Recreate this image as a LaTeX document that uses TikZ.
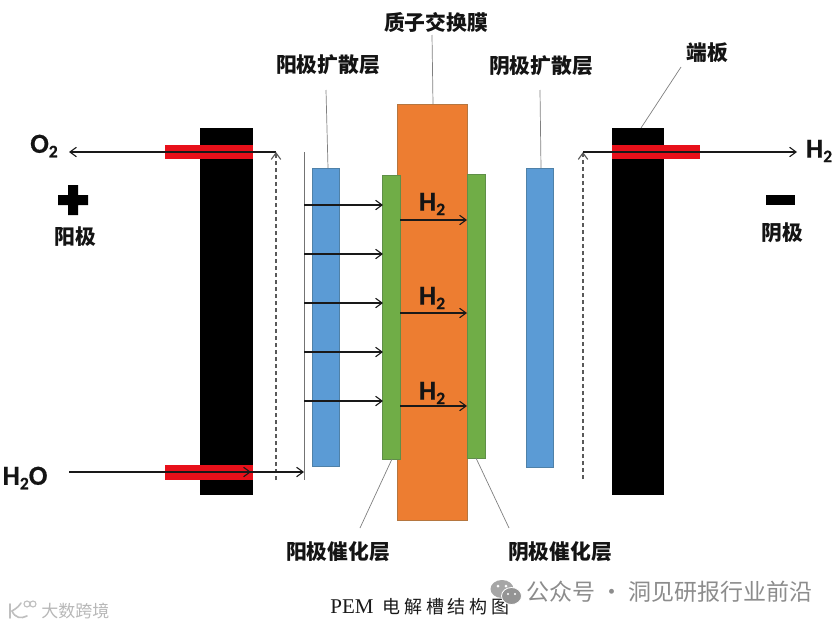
\documentclass[tikz,border=0pt]{standalone}
\usepackage{fontspec}
\setmainfont{Noto Sans CJK SC}
\newfontfamily\latinb[FakeBold=0.5]{Carlito Bold}
\newfontfamily\capserif{Liberation Serif}
\usetikzlibrary{arrows.meta}
\definecolor{blue1}{HTML}{5B9BD5}
\definecolor{blue2}{HTML}{4F81A8}
\definecolor{green1}{HTML}{70AD47}
\definecolor{green2}{HTML}{5F8F48}
\definecolor{orange1}{HTML}{ED7D31}
\definecolor{orange2}{HTML}{B5763F}
\definecolor{barred}{HTML}{E8101A}
\newcommand\lowsub[1]{\raisebox{-4.5pt}{\fontsize{17.5}{18}\selectfont #1}}
\tikzset{
  >={Straight Barb[length=6.5pt,width=9.5pt,line width=1.1pt]},
  box/.style={inner sep=0pt,outer sep=0pt,anchor=north west,line width=0.8pt},
  endplate/.style={box,fill=black,minimum width=53pt,minimum height=367pt},
  redbar/.style={box,fill=barred,minimum width=88pt,minimum height=14pt},
  bluelayer/.style={box,fill=blue1,draw=blue2,minimum width=27pt,minimum height=298pt},
  greenlayer/.style={box,fill=green1,draw=green2,minimum width=18pt,minimum height=284pt},
  flow/.style={->,line width=1.2pt,draw=black!90},
  dashflow/.style={->,line width=1.1pt,draw=black!65,dash pattern=on 4pt off 3pt},
  leader/.style={line width=0.7pt,draw=black!50},
  lab/.style={font=\bfseries\fontsize{20.8}{22}\selectfont,text=black!92,inner sep=0pt},
  gas/.style={font=\latinb\fontsize{27.5}{28}\selectfont,text=black!92,inner sep=0pt},
  wmark/.style={inner sep=0pt},
}
\begin{document}
\begin{tikzpicture}[x=1pt,y=-1pt]
\useasboundingbox (0,0) rectangle (839,627);
\fill[white] (0,0) rectangle (839,627);
% plates
\node[endplate] (leftplate) at (200,128) {};
\node[endplate,minimum width=52pt] (rightplate) at (612,128) {};
\node[bluelayer] (anodegdl) at (312,168) {};
\node[bluelayer,minimum height=299pt] (cathodegdl) at (526,168) {};
\node[box,fill=orange1,draw=orange2,minimum width=70pt,minimum height=416pt] (pem) at (397.5,104) {};
\node[greenlayer] (anodecat) at (382,175) {};
\node[greenlayer] (cathodecat) at (467,174) {};
% coordinates
\coordinate (o2end) at (69,152);
\coordinate (o2turn) at (276,152);
\coordinate (dashLbot) at (276,480);
\coordinate (h2oend) at (69,472);
\coordinate (wallLtop) at (304,152);
\coordinate (wallLbot) at (304,480);
\coordinate (wallin) at (304,472);
\coordinate (h2turn) at (583,152);
\coordinate (dashRbot) at (583,479);
\coordinate (h2end) at (797,152);
% red bars
\node[redbar] (redLtop) at (165,145) {};
\node[redbar,minimum height=15pt] (redLbot) at (165,465) {};
\node[redbar] (redRtop) at (612,145) {};
% flows
\draw[line width=0.9pt,draw=black!55] (wallLtop) -- (wallLbot);
\draw[flow] (o2turn) -- (o2end);
\draw[dashflow] (dashLbot) -- (o2turn);
\draw[flow] (h2oend) -- (wallin);
\draw[flow] (247,472) -- +(4,0);
\draw[dashflow] (dashRbot) -- (h2turn);
\draw[flow] (h2turn) -- (h2end);
\foreach \i/\y in {1/205,2/254,3/303,4/352,5/401}{
  \coordinate (w\i) at (304,\y);
  \coordinate (c\i) at (383,\y);
  \draw[flow] (w\i) -- (c\i);
}
\foreach \i/\y/\t in {1/220/204,2/313/298,3/406/393}{
  \coordinate (m\i) at (400,\y);
  \coordinate (n\i) at (467,\y);
  \draw[flow] (m\i) -- (n\i);
  \node[gas] (h2m\i) at (432,\t) {H\lowsub{2}};
}
% labels
\node[lab] (lpem) at (436,22) {质子交换膜};
\node[lab] (lagdl) at (328,65) {阳极扩散层};
\node[lab] (lcgdl) at (541,66) {阴极扩散层};
\node[lab] (lplate) at (707,53) {端板};
\node[lab] (lacat) at (338,552) {阳极催化层};
\node[lab] (lccat) at (560,552) {阴极催化层};
\node[lab] (lanode) at (75.5,237) {阳极};
\node[lab] (lcathode) at (782.5,233) {阴极};
\node[gas] (lo2) at (44,146) {O\lowsub{2}};
\node[gas] (lh2) at (819,151) {H\lowsub{2}};
\node[gas] (lh2o) at (25,478) {H\lowsub{2}O};
% leaders
\coordinate (pemtop) at (433,104);
\coordinate (agdltop) at (328,168);
\coordinate (cgdltop) at (541,168);
\coordinate (platetop) at (641,128);
\coordinate (acatbot) at (392,459);
\coordinate (ccatbot) at (476,458);
\draw[leader] (432,35) -- (pemtop);
\draw[leader] (326,90) -- (agdltop);
\draw[leader] (540,90) -- (cgdltop);
\draw[leader] (681,67) -- (platetop);
\draw[leader] (acatbot) -- (360,528);
\draw[leader] (ccatbot) -- (509,528);
% signs
\fill[black] (58,195) rectangle (88,205) (68,185) rectangle (78,215);
\fill[black] (766,195) rectangle (795,205);
% caption
\node[inner sep=0pt,text=black!90] (caption) at (420,607) {\capserif\fontsize{21}{22}\selectfont PEM\hspace{9pt}\fontspec{Noto Sans CJK SC}\fontsize{18}{22}\selectfont 电\kern3.8pt 解\kern3.8pt 槽\kern3.8pt 结\kern3.8pt 构\kern3.8pt 图};
% watermarks
\fill[black!35] (502,589) ellipse (11.5pt and 9pt);
\fill[black!42,draw=white,line width=0.8pt] (511.5,596) ellipse (10pt and 8.5pt);
\fill[white] (498,586) circle (1.5pt) (506,586) circle (1.5pt) (508,594) circle (1.2pt) (515,594) circle (1.2pt);
\node[wmark,text=black!45] (wm) at (669.5,592) {\fontsize{23}{24}\selectfont 公众号 · 洞见研报行业前沿};
\node[wmark,text=black!28] (wm2) at (75.5,611) {\fontsize{17}{18}\selectfont 大数跨境};
\draw[black!25,line width=1.6pt,line cap=round] (10,604) -- (10,618) (21,603) .. controls (17,609) and (13,610) .. (12,611) .. controls (15,618) and (21,619) .. (27,616);
\draw[black!25,line width=1.1pt] (27,604) circle (3pt) (33,604) circle (3pt);
\end{tikzpicture}
\end{document}
